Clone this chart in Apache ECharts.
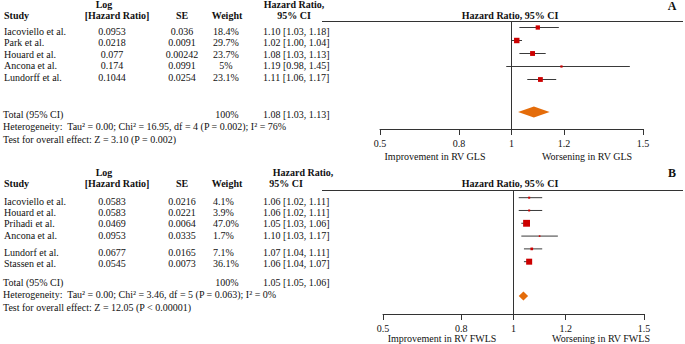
<!DOCTYPE html>
<html>
<head>
<meta charset="utf-8">
<script src="https://cdn.jsdelivr.net/npm/echarts@6/dist/echarts.min.js"></script>
<style>
  html, body { margin: 0; padding: 0; background: #fff; }
  #chart { width: 685px; height: 344px; }
</style>
</head>
<body>
<div id="chart"></div>
<script>
// Panel A: RV GLS
const studiesA = ['Iacoviello et al.', 'Park et al.', 'Houard et al.', 'Ancona et al.', 'Lundorff et al.']
const logHrA = ['0.0953', '0.0218', '0.077', '0.174', '0.1044']
const seA = ['0.036', '0.0091', '0.00242', '0.0991', '0.0254']
const weightA = ['18.4%', '29.7%', '23.7%', '5%', '23.1%']
const hrA = [1.10, 1.02, 1.08, 1.19, 1.11]
const lowA = [1.03, 1.00, 1.03, 0.98, 1.06]
const highA = [1.18, 1.04, 1.13, 1.45, 1.17]
const pooledA = [1.08, 1.03, 1.13]          // text: estimate, low, high
const diamondA = [1.025, 1.085, 1.145]      // drawn diamond: low, centre, high
const hetA = 'Heterogeneity:  Tau\u00b2 = 0.00; Chi\u00b2 = 16.95, df = 4 (P = 0.002); I\u00b2 = 76%'
const testA = 'Test for overall effect: Z = 3.10 (P = 0.002)'

// Panel B: RV FWLS
const studiesB = ['Iacoviello et al.', 'Houard et al.', 'Prihadi et al.', 'Ancona et al.', 'Lundorf et al.', 'Stassen et al.']
const logHrB = ['0.0583', '0.0583', '0.0469', '0.0953', '0.0677', '0.0545']
const seB = ['0.0216', '0.0221', '0.0064', '0.0335', '0.0165', '0.0073']
const weightB = ['4.1%', '3.9%', '47.0%', '1.7%', '7.1%', '36.1%']
const hrB = [1.06, 1.06, 1.05, 1.10, 1.07, 1.06]
const lowB = [1.02, 1.02, 1.03, 1.03, 1.04, 1.04]
const highB = [1.11, 1.11, 1.06, 1.17, 1.11, 1.07]
const pooledB = [1.05, 1.05, 1.06]
const diamondB = [1.02, 1.038, 1.056]
const hetB = 'Heterogeneity:  Tau\u00b2 = 0.00; Chi\u00b2 = 3.46, df = 5 (P = 0.063); I\u00b2 = 0%'
const testB = 'Test for overall effect: Z = 12.05 (P < 0.00001)'

const axisTicks = [0.5, 0.8, 1, 1.2, 1.5]

const FONT = '"Liberation Serif", "DejaVu Serif", serif'
const INK = '#111'

const fmt = (v) => v.toFixed(2)
const ciText = (e, l, h) => `${fmt(e)} [${fmt(l)}, ${fmt(h)}]`

function txt(x, y, text, opts = {}) {
  return {
    type: 'text',
    x,
    y,
    silent: true,
    style: {
      text,
      fill: opts.color || INK,
      fontFamily: FONT,
      fontSize: opts.size || 10,
      fontWeight: opts.bold ? 'bold' : 'normal',
      align: opts.align || 'left',
      verticalAlign: 'middle'
    }
  }
}

function hline(x1, x2, y) {
  return {
    type: 'line',
    silent: true,
    shape: { x1, y1: y, x2, y2: y },
    style: { stroke: '#333', lineWidth: 1 }
  }
}

// left-hand table for one panel
function tableGraphics(p) {
  const g = []
  g.push(txt(4, p.headY2, 'Study', { bold: true }))
  g.push(txt(p.logHeadX, p.headY1, 'Log', { bold: true, align: 'center' }))
  g.push(txt(117, p.headY2, '[Hazard Ratio]', { bold: true, align: 'center' }))
  g.push(txt(182, p.headY2, 'SE', { bold: true, align: 'center' }))
  g.push(txt(227, p.headY2, 'Weight', { bold: true, align: 'center' }))
  g.push(txt(p.hrHead1X, p.headY1, 'Hazard Ratio,', { bold: true, align: 'center' }))
  g.push(txt(p.hrHead2X, p.headY2, '95% CI', { bold: true, align: 'center' }))
  p.studies.forEach((s, i) => {
    const y = p.rowY[i]
    g.push(txt(4, y, s))
    g.push(txt(112, y, p.logHr[i], { align: 'center' }))
    g.push(txt(182, y, p.se[i], { align: 'center' }))
    g.push(txt(p.weightX, y, p.weight[i], { align: p.weightAlign }))
    g.push(txt(263, y, ciText(p.hr[i], p.low[i], p.high[i])))
  })
  g.push(txt(3, p.totalY, 'Total (95% CI)'))
  g.push(txt(227, p.totalY, '100%', { align: 'center' }))
  g.push(txt(263, p.totalY, ciText(p.pooled[0], p.pooled[1], p.pooled[2])))
  g.push(txt(3, p.totalY + 12.5, p.het))
  g.push(txt(3, p.totalY + 25, p.test))
  // right-hand header
  g.push(txt(510, p.headY2, 'Hazard Ratio, 95% CI', { bold: true, align: 'center' }))
  g.push(txt(672, p.letterY, p.letter, { bold: true, size: 12, align: 'center' }))
  g.push(hline(322, 683, p.ruleY))
  g.push(txt(p.leftLabelX, p.subY, p.leftLabel, { align: 'center' }))
  g.push(txt(p.rightLabelX, p.subY, p.rightLabel, { align: 'center' }))
  return g
}

const panelA = {
  studies: studiesA, logHr: logHrA, se: seA, weight: weightA, hr: hrA, low: lowA, high: highA,
  pooled: pooledA, het: hetA, test: testA,
  headY1: 4.5, headY2: 15, logHeadX: 104, hrHead1X: 294, hrHead2X: 294,
  rowY: [31, 42.7, 54.3, 65.7, 77.3], totalY: 114,
  weightX: 226, weightAlign: 'center',
  letter: 'A', letterY: 6, ruleY: 21.5, subY: 156,
  leftLabel: 'Improvement in RV GLS', leftLabelX: 435,
  rightLabel: 'Worsening in RV GLS', rightLabelX: 587
}

const panelB = {
  studies: studiesB, logHr: logHrB, se: seB, weight: weightB, hr: hrB, low: lowB, high: highB,
  pooled: pooledB, het: hetB, test: testB,
  headY1: 172, headY2: 183, logHeadX: 104, hrHead1X: 303, hrHead2X: 286,
  rowY: [201, 212, 223, 235, 252, 263], totalY: 282,
  weightX: 213, weightAlign: 'left',
  letter: 'B', letterY: 173, ruleY: 190.5, subY: 338,
  leftLabel: 'Improvement in RV FWLS', leftLabelX: 442,
  rightLabel: 'Worsening in RV FWLS', rightLabelX: 601
}

function xAxisFor(gridIndex) {
  return {
    type: 'value',
    gridIndex,
    min: 0.5,
    max: 1.5,
    splitLine: { show: false },
    axisLine: { show: true, onZero: false, lineStyle: { color: '#333', width: 1 } },
    axisTick: { show: true, customValues: axisTicks, length: 6, lineStyle: { color: '#333' } },
    axisLabel: {
      customValues: axisTicks,
      margin: 9,
      color: INK,
      fontFamily: FONT,
      fontSize: 10,
      formatter: (v) => String(v)
    }
  }
}

function yAxisFor(gridIndex, min, max) {
  return { type: 'value', gridIndex, inverse: true, min, max, show: false }
}

function whiskerSeries(idx, low, high) {
  return {
    type: 'custom',
    xAxisIndex: idx,
    yAxisIndex: idx,
    silent: true,
    data: low.map((l, i) => [l, high[i], i + 1]),
    encode: { x: [0, 1], y: 2 },
    renderItem: (params, api) => {
      const a = api.coord([api.value(0), api.value(2)])
      const b = api.coord([api.value(1), api.value(2)])
      return {
        type: 'line',
        shape: { x1: a[0], y1: a[1], x2: b[0], y2: b[1] },
        style: { stroke: '#3a3a3a', lineWidth: 1 }
      }
    }
  }
}

function squareSeries(idx, hr, weight) {
  return {
    type: 'scatter',
    xAxisIndex: idx,
    yAxisIndex: idx,
    silent: true,
    z: 3,
    symbol: 'rect',
    symbolSize: (v) => Math.max(1.6, Math.sqrt(v[2])),
    itemStyle: { color: '#cc0000', opacity: 1 },
    data: hr.map((h, i) => [h, i + 1, parseFloat(weight[i])]),
    markLine: {
      silent: true,
      symbol: 'none',
      label: { show: false },
      lineStyle: { color: '#333', type: 'solid', width: 1 },
      data: [{ xAxis: 1 }]
    }
  }
}

function diamondSeries(idx, d, row, h) {
  return {
    type: 'custom',
    xAxisIndex: idx,
    yAxisIndex: idx,
    silent: true,
    z: 3,
    data: [[d[0], d[1], d[2], row]],
    encode: { x: [0, 2], y: 3 },
    renderItem: (params, api) => {
      const l = api.coord([api.value(0), api.value(3)])
      const c = api.coord([api.value(1), api.value(3)])
      const r = api.coord([api.value(2), api.value(3)])
      return {
        type: 'polygon',
        shape: { points: [[l[0], l[1]], [c[0], c[1] - h / 2], [r[0], r[1]], [c[0], c[1] + h / 2]] },
        style: { fill: '#e46c0a' }
      }
    }
  }
}

const chart = echarts.init(document.getElementById('chart'), null, { renderer: 'svg' })

chart.setOption({
  animation: false,
  backgroundColor: '#fff',
  grid: [
    { left: 380, width: 263, top: 21, height: 108 },
    { left: 383, width: 261, top: 190, height: 124 }
  ],
  xAxis: [xAxisFor(0), xAxisFor(1)],
  yAxis: [
    yAxisFor(0, 0.5, 0.5 + 108 / 13),
    yAxisFor(1, 0.4, 0.4 + 124 / 12.8)
  ],
  series: [
    whiskerSeries(0, lowA, highA),
    squareSeries(0, hrA, weightA),
    diamondSeries(0, diamondA, 7.5, 11),
    whiskerSeries(1, lowB, highB),
    squareSeries(1, hrB, weightB),
    diamondSeries(1, diamondB, 8.68, 9)
  ],
  graphic: [...tableGraphics(panelA), ...tableGraphics(panelB)]
})
</script>
</body>
</html>
